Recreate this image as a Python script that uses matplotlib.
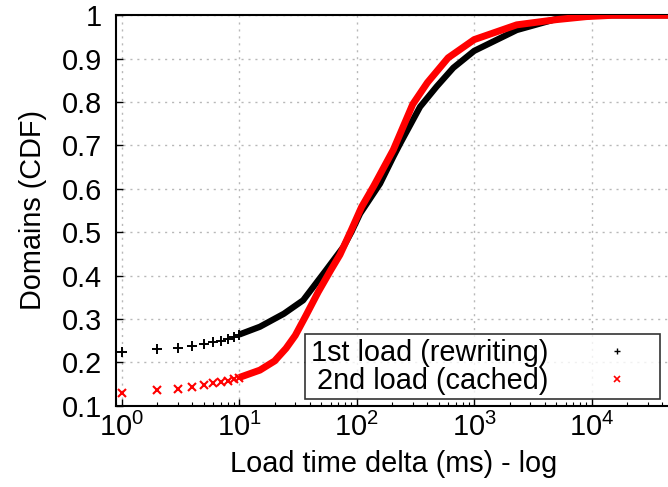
import matplotlib
matplotlib.use("Agg")
import matplotlib.pyplot as plt
from matplotlib.lines import Line2D
from matplotlib.ticker import FixedLocator, LogLocator, NullFormatter

plt.rcParams['font.family'] = ['Liberation Sans', 'DejaVu Sans']
plt.rcParams['mathtext.fontset'] = 'custom'
plt.rcParams['mathtext.rm'] = 'Liberation Sans'
plt.rcParams['mathtext.it'] = 'Liberation Sans'

# ---- data ----
first_x = [1, 2, 3, 4, 5, 6, 7, 8, 9, 10, 15, 24, 35, 55, 77, 90, 107, 158,
           205, 235, 346, 480, 664, 1000, 2300, 5400, 12000, 47000]
first_y = [0.224, 0.230, 0.234, 0.238, 0.243, 0.247, 0.250, 0.254, 0.259, 0.264,
           0.282, 0.312, 0.343, 0.413, 0.466, 0.500, 0.543, 0.612,
           0.674, 0.705, 0.789, 0.836, 0.879, 0.918, 0.966, 0.994, 1.0, 1.0]

second_x = [1, 2, 3, 4, 5, 6, 7, 8, 9, 10, 15, 20, 25, 30, 37, 47, 60, 72,
            90, 110, 140, 205, 300, 400, 600, 1000, 2300, 5000, 9000, 15000, 47000]
second_y = [0.130, 0.136, 0.139, 0.144, 0.148, 0.152, 0.155, 0.158, 0.161, 0.165,
            0.182, 0.203, 0.232, 0.262, 0.308, 0.362, 0.412, 0.448,
            0.505, 0.558, 0.607, 0.690, 0.795, 0.845, 0.902, 0.944, 0.978, 0.990,
            0.997, 1.0, 1.0]

labels = ["1st load (rewriting)", " 2nd load (cached)"]
y_ticks = [0.1, 0.2, 0.3, 0.4, 0.5, 0.6, 0.7, 0.8, 0.9, 1.0]
y_ticklabels = ["0.1", "0.2", "0.3", "0.4", "0.5", "0.6", "0.7", "0.8", "0.9", "1"]
x_ticks = [1, 10, 100, 1000, 10000]
x_ticklabels = [r"$\mathregular{10^{0}}$", r"$\mathregular{10^{1}}$",
                r"$\mathregular{10^{2}}$", r"$\mathregular{10^{3}}$",
                r"$\mathregular{10^{4}}$"]

FS = 20.8
W, H = 668, 487
fig = plt.figure(figsize=(W / 100, H / 100), dpi=100)
left, right, top, bottom = 116, 671, 15.3, 405.7
ax = fig.add_axes([left / W, (H - bottom) / H, (right - left) / W, (bottom - top) / H])

def split(xs, ys, cut):
    mx = [x for x in xs if x <= cut]
    my = ys[:len(mx)]
    lx = [x for x in xs if x >= cut]
    ly = ys[len(xs) - len(lx):]
    return mx, my, lx, ly

bmx, bmy, blx, bly = split(first_x, first_y, 10)
rmx, rmy, rlx, rly = split(second_x, second_y, 10)

ax.plot(bmx, bmy, linestyle='none', marker='+', markersize=7, mew=1.4, color='black', zorder=3)
ax.plot(blx, bly, '-', lw=4.5, color='black', solid_capstyle='butt', solid_joinstyle='round', zorder=3)
ax.plot(rmx, rmy, linestyle='none', marker='x', markersize=5.5, mew=1.5, color='red', zorder=4)
ax.plot(rlx, rly, '-', lw=5, color='red', solid_capstyle='butt', solid_joinstyle='round', zorder=4)

ax.set_xscale('log')
ax.set_xlim(10 ** ((left - 121.7) / 117.5), 10 ** ((right - 121.7) / 117.5))
ax.set_ylim(0.1, 1.0)

ax.xaxis.set_major_locator(FixedLocator(x_ticks))
ax.set_xticklabels(x_ticklabels)
ax.xaxis.set_minor_locator(LogLocator(base=10, subs=range(2, 10), numticks=20))
ax.xaxis.set_minor_formatter(NullFormatter())
ax.set_yticks(y_ticks)
ax.set_yticklabels(y_ticklabels)

ax.tick_params(axis='both', which='major', direction='in', length=5, width=1,
               labelsize=FS, color='black')
ax.tick_params(axis='x', which='major', pad=5)
ax.tick_params(axis='y', which='major', pad=10)
ax.tick_params(axis='x', which='minor', direction='in', length=3, width=0.8)

ax.grid(True, which='major', color='#b8b8b8', lw=1.0, linestyle=(0, (1.5, 3.5)))
ax.set_axisbelow(True)

for s in ['left', 'bottom', 'top']:
    ax.spines[s].set_linewidth(1.5)
ax.spines['right'].set_visible(False)

ax.set_xlabel("Load time delta (ms) - log", fontsize=FS, labelpad=6)
ax.set_ylabel("Domains (CDF)", fontsize=FS, labelpad=11)

handles = [Line2D([], [], linestyle='none', marker='+', markersize=5, mew=1, color='black'),
           Line2D([], [], linestyle='none', marker='x', markersize=4, mew=1.2, color='red')]
leg = ax.legend(handles, labels, loc='lower right',
                bbox_to_anchor=((660 - left) / (right - left), (bottom - 399) / (bottom - top)),
                borderaxespad=0, markerfirst=False, fontsize=FS, frameon=True, fancybox=False,
                labelspacing=0.0, borderpad=0.15, handletextpad=1.0, handlelength=2.7)
leg.get_frame().set_edgecolor('black')
leg.get_frame().set_linewidth(1.2)
leg.set_zorder(10)

fig.savefig("out.png", dpi=100)
